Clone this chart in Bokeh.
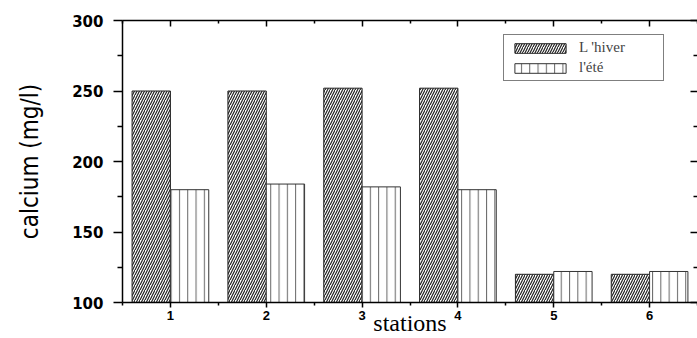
import numpy as np
from bokeh.plotting import figure
from bokeh.models import (Range1d, LinearAxis, FixedTicker, Legend, LegendItem,
                          ColumnDataSource, CustomJSTickFormatter)
from bokeh.transform import dodge
from bokeh.embed import file_html
from bokeh.resources import INLINE

# ---- data ----
stations = [1, 2, 3, 4, 5, 6]
hiver = [250, 250, 252, 252, 120, 120]
ete = [180, 184, 182, 180, 122, 122]
y_ticks = [100, 150, 200, 250, 300]
series_names = ["L 'hiver", "l'été"]
x_title = "stations"
y_title = "calcium (mg/l)"

x_lo, x_hi = 0.5, 6.5
y_lo, y_hi = 100, 300
bar_w = 0.4

src = ColumnDataSource(dict(station=stations, hiver=hiver, ete=ete))

p = figure(width=697, height=338, x_range=Range1d(x_lo, x_hi), y_range=Range1d(y_lo, y_hi),
           output_backend="svg", toolbar_location=None,
           x_axis_type=None, y_axis_type=None,
           min_border_left=122, min_border_right=0, min_border_top=20, min_border_bottom=36)
p.outline_line_color = None
p.xgrid.visible = False
p.ygrid.visible = False
p.background_fill_color = "white"
p.border_fill_color = "white"

r1 = p.vbar(x=dodge('station', -bar_w / 2, range=p.x_range), top='hiver', width=bar_w, source=src,
            fill_color="white", line_color="#222222", line_width=1,
            hatch_pattern="/", hatch_scale=5, hatch_color="#222222", hatch_weight=1.2)
r2 = p.vbar(x=dodge('station', bar_w / 2, range=p.x_range), top='ete', width=bar_w, source=src,
            fill_color="white", line_color="#333333", line_width=1,
            hatch_pattern="|", hatch_scale=8.3, hatch_color="#666666", hatch_weight=1)

x_minor = [s - 0.5 for s in stations] + [stations[-1] + 0.5]
y_minor = [(a + b) / 2 for a, b in zip(y_ticks, y_ticks[1:])]
blank = CustomJSTickFormatter(code="return ''")

# left axis
ya = LinearAxis(ticker=FixedTicker(ticks=y_ticks, minor_ticks=y_minor),
                major_tick_out=9, major_tick_in=0, minor_tick_out=5, minor_tick_in=0,
                axis_line_width=1.5, major_tick_line_width=1.5, minor_tick_line_width=1.5,
                major_label_text_font="DejaVu Sans", major_label_text_font_style="bold",
                major_label_text_font_size="15px", major_label_text_color="black",
                major_label_standoff=10,
                axis_label=y_title,
                axis_label_text_font="Liberation Sans Narrow, DejaVu Sans Condensed, Roboto Condensed, Liberation Sans",
                axis_label_text_font_style="normal", axis_label_text_font_size="24px",
                axis_label_text_color="black", axis_label_standoff=25)
p.add_layout(ya, "left")

# bottom axis
xa = LinearAxis(ticker=FixedTicker(ticks=stations, minor_ticks=x_minor),
                major_tick_out=5, major_tick_in=0, minor_tick_out=3, minor_tick_in=0,
                axis_line_width=1.5, major_tick_line_width=1.5, minor_tick_line_width=1.5,
                major_label_text_font="Liberation Sans", major_label_text_font_style="bold",
                major_label_text_font_size="13px", major_label_text_color="black",
                major_label_standoff=3,
                axis_label=x_title, axis_label_text_font="Liberation Serif",
                axis_label_text_font_style="normal", axis_label_text_font_size="24px",
                axis_label_text_color="black", axis_label_standoff=-13)
p.add_layout(xa, "below")

# top axis (ticks only)
ta = LinearAxis(ticker=FixedTicker(ticks=stations, minor_ticks=x_minor), formatter=blank,
                major_tick_out=0, major_tick_in=6, minor_tick_out=0, minor_tick_in=3,
                axis_line_width=1.5, major_tick_line_width=1.5, minor_tick_line_width=1.5,
                major_label_text_font_size="0px", major_label_standoff=0)
p.add_layout(ta, "above")

# right axis (ticks only)
ra = LinearAxis(ticker=FixedTicker(ticks=y_ticks, minor_ticks=y_minor), formatter=blank,
                major_tick_out=0, major_tick_in=7, minor_tick_out=0, minor_tick_in=4,
                axis_line_color=None, major_tick_line_width=1.5, minor_tick_line_width=1.5,
                major_label_text_font_size="0px", major_label_standoff=0)
p.add_layout(ra, "right")

legend = Legend(items=[LegendItem(label=series_names[0], renderers=[r1]),
                       LegendItem(label=series_names[1], renderers=[r2])],
                location=(381, 221), margin=0, padding=4, spacing=3,
                glyph_width=64, glyph_height=12, label_standoff=7, label_height=14,
                label_width=80,
                label_text_font="Liberation Serif", label_text_font_size="15px",
                label_text_baseline="middle",
                border_line_color="black", border_line_width=1,
                background_fill_color="white", background_fill_alpha=1)
p.add_layout(legend)

open("out.html", "w").write(file_html(p, INLINE))
